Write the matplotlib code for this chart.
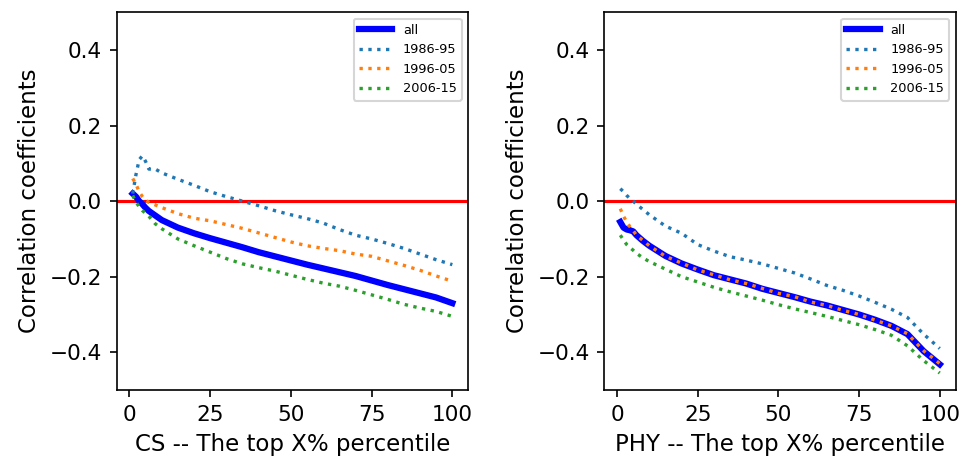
import numpy as np
import matplotlib.pyplot as plt

plt.rcParams['font.size'] = 10.4

# top X% percentile
x = [1, 2, 3, 4, 5, 6, 8, 10, 15, 20, 25, 30, 35, 40, 45, 50, 55, 60, 65, 70, 75, 80, 85, 90, 95, 100]

# CS
cs_all = [0.02, 0.012, 0.0, -0.008, -0.018, -0.026, -0.038, -0.05, -0.07, -0.085, -0.098, -0.11, -0.122,
          -0.135, -0.146, -0.157, -0.168, -0.178, -0.188, -0.198, -0.21, -0.222, -0.233, -0.244, -0.255, -0.27]
cs_8695 = [0.02, 0.07, 0.11, 0.12, 0.105, 0.085, 0.085, 0.075, 0.058, 0.042, 0.025, 0.012, 0.0,
           -0.012, -0.025, -0.036, -0.046, -0.058, -0.075, -0.09, -0.1, -0.112, -0.125, -0.14, -0.155, -0.168]
cs_9605 = [0.06, 0.045, 0.025, 0.012, 0.002, -0.003, -0.01, -0.017, -0.033, -0.045, -0.052, -0.062, -0.072,
           -0.084, -0.096, -0.108, -0.118, -0.125, -0.131, -0.14, -0.146, -0.158, -0.17, -0.183, -0.198, -0.212]
cs_0615 = [0.015, -0.002, -0.015, -0.025, -0.032, -0.04, -0.06, -0.073, -0.1, -0.118, -0.135, -0.152, -0.166,
           -0.176, -0.185, -0.196, -0.207, -0.217, -0.225, -0.236, -0.248, -0.26, -0.273, -0.283, -0.292, -0.305]

# PHY
phy_all = [-0.055, -0.07, -0.075, -0.077, -0.08, -0.09, -0.105, -0.118, -0.145, -0.165, -0.181, -0.196, -0.207,
           -0.218, -0.232, -0.243, -0.254, -0.266, -0.276, -0.288, -0.3, -0.314, -0.33, -0.352, -0.397, -0.432]
phy_8695 = [0.033, 0.025, 0.015, 0.007, 0.0, -0.008, -0.022, -0.036, -0.066, -0.085, -0.115, -0.132, -0.147,
            -0.156, -0.166, -0.178, -0.19, -0.206, -0.223, -0.236, -0.251, -0.268, -0.286, -0.308, -0.352, -0.39]
phy_9605 = [-0.02, -0.04, -0.055, -0.068, -0.078, -0.09, -0.104, -0.118, -0.146, -0.164, -0.182, -0.195, -0.208,
            -0.218, -0.231, -0.244, -0.253, -0.267, -0.276, -0.289, -0.3, -0.315, -0.33, -0.351, -0.396, -0.43]
phy_0615 = [-0.09, -0.103, -0.115, -0.123, -0.13, -0.138, -0.15, -0.16, -0.18, -0.2, -0.214, -0.228, -0.24,
            -0.251, -0.262, -0.274, -0.285, -0.295, -0.305, -0.316, -0.327, -0.34, -0.355, -0.383, -0.422, -0.455]

fig = plt.figure(figsize=(964 / 150, 462 / 150), dpi=150)
ax1 = fig.add_axes([0.1211, 0.1558, 0.3647, 0.8175])
ax2 = fig.add_axes([0.6269, 0.1558, 0.3645, 0.8175])

panels = [(ax1, 'CS', cs_all, cs_8695, cs_9605, cs_0615),
          (ax2, 'PHY', phy_all, phy_8695, phy_9605, phy_0615)]

for ax, name, a, s1, s2, s3 in panels:
    ax.axhline(0, color='red', lw=1.5)
    ax.plot(x, a, color='blue', lw=3, label='all')
    ax.plot(x, s1, ':', color='tab:blue', lw=1.6, label='1986-95')
    ax.plot(x, s2, ':', color='tab:orange', lw=1.6, label='1996-05')
    ax.plot(x, s3, ':', color='tab:green', lw=1.6, label='2006-15')
    ax.set_ylim(-0.5, 0.5)
    ax.set_xlim(-3.95, 104.95)
    ax.set_xticks([0, 25, 50, 75, 100])
    ax.set_yticks([-0.4, -0.2, 0.0, 0.2, 0.4])
    ax.set_xlabel(name + ' -- The top X% percentile', fontsize=11)
    ax.set_ylabel('Correlation coefficients', fontsize=11)
    ax.legend(loc='upper right', fontsize=6.2, handlelength=2.6)

plt.savefig('out.png', dpi=150)
